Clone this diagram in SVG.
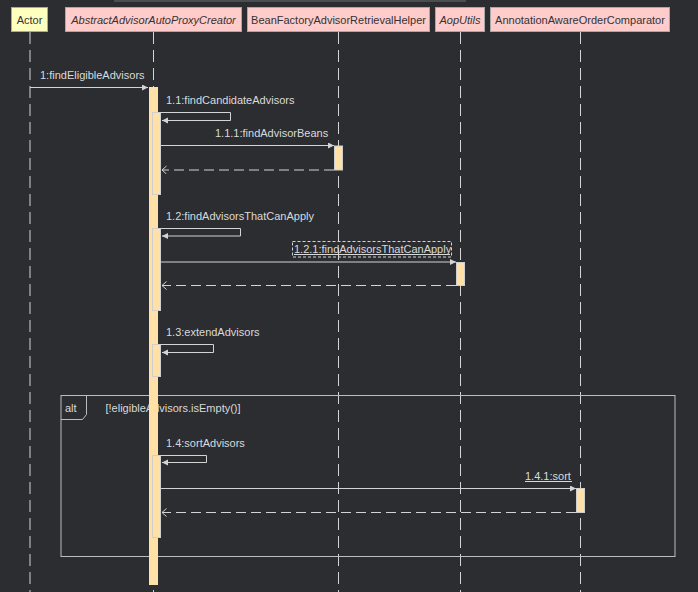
<svg xmlns="http://www.w3.org/2000/svg" width="698" height="592" viewBox="0 0 698 592">
<defs>
<marker id="sync" markerWidth="8" markerHeight="8" refX="6" refY="3" orient="auto" markerUnits="userSpaceOnUse">
<path d="M0,0 L6,3 L0,6 Z" fill="#d4d4d4"/>
</marker>
<marker id="ret" markerWidth="8" markerHeight="10" refX="5" refY="4" orient="auto" markerUnits="userSpaceOnUse">
<path d="M0.5,0 L5,4 L0.5,8" fill="none" stroke="#d4d4d4" stroke-width="1"/>
</marker>
</defs>
<style>
text{font-family:"Liberation Sans",Arial,sans-serif;font-size:11px}
.hdr{stroke:#a8a8a8;stroke-width:1}
.actor{fill:#ffffc0}
.cls{fill:#ffcccc}
.htxt{fill:#333333;text-anchor:middle}
.it{font-style:italic}
.life{stroke:#d4d4d4;stroke-width:1;stroke-dasharray:12 6;fill:none}
.bar{fill:#ffe0a6}
.nbar{fill:#ffe0a6;stroke:#cfcfcf;stroke-width:1}
.msg{stroke:#d4d4d4;stroke-width:1;fill:none}
.rmsg{stroke:#d4d4d4;stroke-width:1;fill:none;stroke-dasharray:10 5}
.lbl{fill:#dadada}
.frame{stroke:#bdbdbd;stroke-width:1;fill:none}
</style>
<rect x="0" y="0" width="698" height="592" fill="#2b2d30"/>
<rect x="114" y="0" width="352" height="2" fill="#4a4d52"/>

<g id="lifelines">
<line class="life" x1="30" y1="32" x2="30" y2="592"/>
<line class="life" x1="153.5" y1="32" x2="153.5" y2="592"/>
<line class="life" x1="338.5" y1="32" x2="338.5" y2="592"/>
<line class="life" x1="460.5" y1="32" x2="460.5" y2="592"/>
<line class="life" x1="580.5" y1="32" x2="580.5" y2="592"/>
</g>

<g id="actor">
<rect class="hdr actor" x="11.5" y="7.5" width="36" height="24"/>
<text class="htxt" x="29.5" y="23.5">Actor</text>
</g>
<g id="abstractAdvisorAutoProxyCreator">
<rect class="hdr cls" x="65.5" y="7.5" width="176" height="24"/>
<text class="htxt it" x="153.5" y="23.5">AbstractAdvisorAutoProxyCreator</text>
</g>
<g id="beanFactoryAdvisorRetrievalHelper">
<rect class="hdr cls" x="247.5" y="7.5" width="182" height="24"/>
<text class="htxt" x="338.5" y="23.5">BeanFactoryAdvisorRetrievalHelper</text>
</g>
<g id="aopUtils">
<rect class="hdr cls" x="435.5" y="7.5" width="49" height="24"/>
<text class="htxt it" x="460" y="23.5">AopUtils</text>
</g>
<g id="annotationAwareOrderComparator">
<rect class="hdr cls" x="490.5" y="7.5" width="179" height="24"/>
<text class="htxt" x="580" y="23.5">AnnotationAwareOrderComparator</text>
</g>

<g id="alt-frame">
<rect class="frame" x="61" y="395.5" width="614" height="161"/>
<path class="frame" d="M61,419.5 H82.5 L86.5,414.5 V395.5"/>
<text class="lbl" x="65" y="412">alt</text>
<text class="lbl" x="105.5" y="412">[!eligibleAdvisors.isEmpty()]</text>
</g>

<g id="activations">
<rect class="bar" x="149" y="87" width="9" height="498"/>
<rect class="nbar" x="152.5" y="112.5" width="8" height="82"/>
<rect class="nbar" x="152.5" y="228.5" width="8" height="82"/>
<rect class="nbar" x="152.5" y="344.5" width="8" height="32"/>
<rect class="nbar" x="152.5" y="455.5" width="8" height="82"/>
<rect class="nbar" x="334.5" y="146" width="8" height="24"/>
<rect class="nbar" x="456.5" y="262.5" width="8" height="23"/>
<rect class="nbar" x="576.5" y="488.5" width="8" height="24"/>
</g>

<g id="connectors">
<line class="msg" x1="30" y1="87.5" x2="148" y2="87.5" marker-end="url(#sync)"/>
<text class="lbl" x="40" y="79">1:findEligibleAdvisors</text>

<path class="msg" d="M161,112.5 H230.5 V120.5 H162" marker-end="url(#sync)"/>
<text class="lbl" x="166" y="104">1.1:findCandidateAdvisors</text>

<line class="msg" x1="161" y1="145.5" x2="334" y2="145.5" marker-end="url(#sync)"/>
<text class="lbl" x="215" y="137">1.1.1:findAdvisorBeans</text>
<line class="rmsg" x1="334" y1="170" x2="162" y2="170" marker-end="url(#ret)"/>

<path class="msg" d="M161,228.5 H240.5 V236 H162" marker-end="url(#sync)"/>
<text class="lbl" x="166" y="220">1.2:findAdvisorsThatCanApply</text>

<rect x="292.5" y="241.5" width="159" height="15.5" fill="none" stroke="#d4d4d4" stroke-width="1" stroke-dasharray="3 2"/>
<text class="lbl" x="294" y="252.5">1.2.1:findAdvisorsThatCanApply</text>
<line x1="294" y1="254.5" x2="450" y2="254.5" stroke="#dadada" stroke-width="1"/>
<line class="msg" x1="161" y1="262" x2="456" y2="262" marker-end="url(#sync)"/>
<line class="rmsg" x1="456" y1="285.5" x2="162" y2="285.5" marker-end="url(#ret)"/>

<path class="msg" d="M161,344.5 H213.5 V352.5 H162" marker-end="url(#sync)"/>
<text class="lbl" x="166" y="336">1.3:extendAdvisors</text>

<path class="msg" d="M161,455.5 H206.5 V462.5 H162" marker-end="url(#sync)"/>
<text class="lbl" x="166" y="447">1.4:sortAdvisors</text>

<text class="lbl" x="525" y="479.5">1.4.1:sort</text>
<line x1="525" y1="481.5" x2="572" y2="481.5" stroke="#dadada" stroke-width="1"/>
<line class="msg" x1="161" y1="488.5" x2="576" y2="488.5" marker-end="url(#sync)"/>
<line class="rmsg" x1="576" y1="512.5" x2="162" y2="512.5" marker-end="url(#ret)"/>
</g>
</svg>
